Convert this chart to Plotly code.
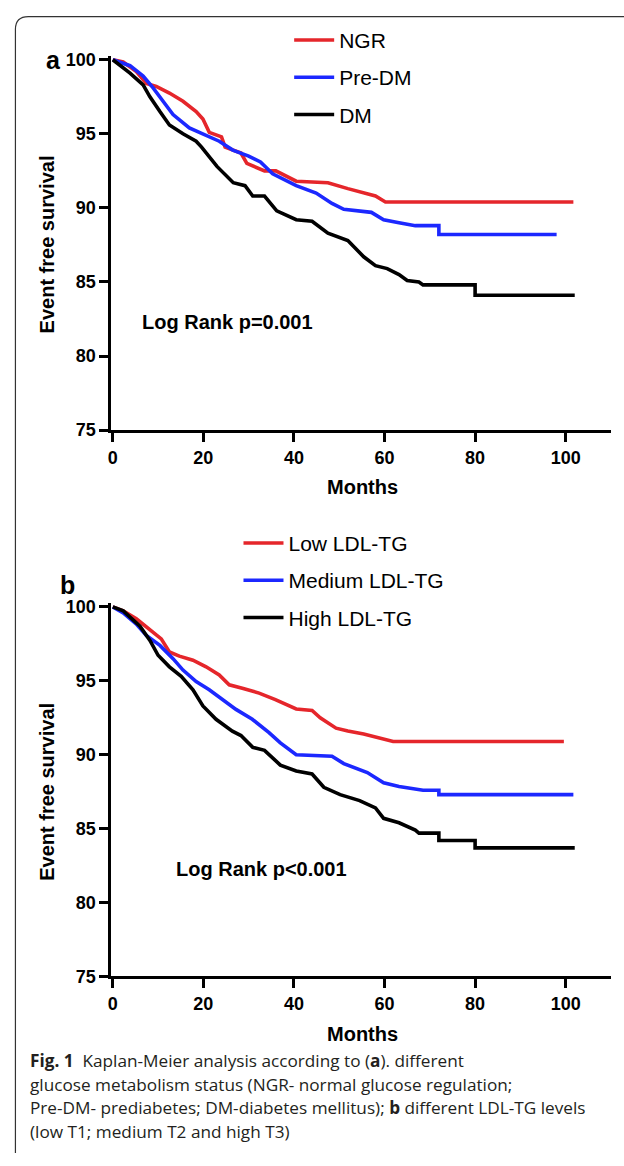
import plotly.graph_objects as go

# ---------------- data ----------------
# Panel a: glucose metabolism status
ngr_t = [0, 2.3, 5.2, 7.4, 9.6, 12.5, 15.5, 18.4, 19.9, 21.3, 24, 24.8, 28.3, 29.6, 33.5, 36, 40.5, 47.5, 51.9, 55.4, 58, 60.2, 101.7]
ngr_s = [100, 99.85, 99.2, 98.4, 98.2, 97.75, 97.2, 96.5, 96.0, 95.1, 94.8, 94.1, 93.7, 93.0, 92.5, 92.5, 91.8, 91.7, 91.3, 91.0, 90.8, 90.4, 90.4]

predm_t = [0, 3.8, 6.7, 8.9, 11.1, 13.3, 16.9, 19.9, 23.5, 26.5, 30, 32.6, 35.3, 40.5, 44.9, 48.4, 51, 57.1, 59.8, 63.2, 66.8, 72, 72, 98]
predm_s = [100, 99.6, 98.9, 98.1, 97.2, 96.3, 95.4, 95.0, 94.5, 93.9, 93.5, 93.1, 92.3, 91.5, 91.0, 90.3, 89.9, 89.7, 89.2, 89.0, 88.8, 88.8, 88.2, 88.2]

dm_t = [0, 3.8, 6.7, 8.2, 10.4, 12.5, 15.5, 18.4, 19.6, 23, 26.6, 29.2, 30.9, 33.5, 36.2, 40.5, 44, 47.5, 51.9, 52.8, 55.4, 58, 60.6, 63.2, 65, 67.6, 68.5, 80, 80, 102]
dm_s = [100, 99.1, 98.3, 97.5, 96.5, 95.6, 95.0, 94.5, 94.1, 92.8, 91.7, 91.5, 90.8, 90.8, 89.8, 89.2, 89.1, 88.3, 87.8, 87.5, 86.7, 86.1, 85.9, 85.5, 85.1, 85.0, 84.8, 84.8, 84.1, 84.1]

# Panel b: LDL-TG levels
low_t = [0, 2.3, 5.2, 8.2, 10.7, 12.5, 14.7, 17.7, 20.6, 23.5, 25.7, 28.6, 32.3, 35.9, 40.5, 44, 45.8, 49.3, 51.9, 55.4, 59.8, 61.9, 99.6]
low_s = [100, 99.73, 99.2, 98.5, 97.84, 96.95, 96.67, 96.4, 95.95, 95.4, 94.73, 94.5, 94.17, 93.73, 93.1, 93.0, 92.5, 91.8, 91.6, 91.4, 91.1, 90.9, 90.9]

med_t = [0, 2.3, 5.2, 7.4, 10.4, 13.3, 15.5, 18.4, 21.3, 24.2, 27.2, 30.8, 34.5, 37, 40.5, 48.4, 51, 56.2, 59.8, 63.2, 68.5, 72, 72, 101.7]
med_s = [100, 99.6, 98.84, 98.07, 97.4, 96.5, 95.73, 94.95, 94.4, 93.73, 93.07, 92.4, 91.5, 90.8, 90.0, 89.9, 89.4, 88.8, 88.1, 87.85, 87.6, 87.6, 87.3, 87.3]

high_t = [0, 2.3, 6.0, 8.2, 10.0, 12.5, 15.1, 17.7, 19.9, 22.8, 26.4, 28.3, 30.9, 33.5, 37, 40.5, 44, 46.6, 50.2, 54.5, 58, 59.8, 63.2, 66.8, 67.6, 72, 72, 80, 80, 102]
high_s = [100, 99.73, 98.7, 97.73, 96.73, 95.95, 95.3, 94.4, 93.3, 92.4, 91.6, 91.3, 90.5, 90.3, 89.3, 88.9, 88.7, 87.8, 87.3, 86.9, 86.4, 85.7, 85.4, 84.9, 84.7, 84.7, 84.2, 84.2, 83.7, 83.7]

series_a = ["NGR", "Pre-DM", "DM"]
series_b = ["Low LDL-TG", "Medium LDL-TG", "High LDL-TG"]
x_ticks = [0, 20, 40, 60, 80, 100]
y_ticks = [75, 80, 85, 90, 95, 100]
pvalue_a = "Log Rank p=0.001"
pvalue_b = "Log Rank p<0.001"
caption_lines = [
    "<b>Fig. 1</b>\u00a0\u00a0Kaplan-Meier analysis according to (<b>a</b>). different",
    "glucose metabolism status (NGR- normal glucose regulation;",
    "Pre-DM- prediabetes; DM-diabetes mellitus); <b>b</b> different LDL-TG levels",
    "(low T1; medium T2 and high T3)",
]

# ---------------- styling / layout helpers ----------------
W, H = 624, 1166
RED, BLUE, BLACK = "#E5262B", "#1C28FF", "#000000"
FONT = "Liberation Sans, Arial, Helvetica, sans-serif"
CAP_FONT = "Open Sans, Noto Sans, sans-serif"


def fx(p):
    return p / W


def fy(p):
    return 1 - p / H


kx = (565.3 - 109.5) / 100.0
x_dom = [fx(109.5 - 0.3 * kx), fx(109.5 + 110 * kx)]
ka = (430 - 54.5) / 25.0
ya_dom = [fy(430), fy(54.5 - 0.25 * ka)]
kb = (984 - 609.3) / 25.0
yb_dom = [fy(984), fy(609.3 - 0.25 * kb)]

fig = go.Figure()

for name, t, s, col in [(series_a[0], ngr_t, ngr_s, RED), (series_a[1], predm_t, predm_s, BLUE), (series_a[2], dm_t, dm_s, BLACK)]:
    fig.add_trace(go.Scatter(x=t, y=s, mode="lines", name=name, line=dict(color=col, width=3.6),
                             xaxis="x", yaxis="y", legend="legend", legendgroup=name))
for name, t, s, col in [(series_b[0], low_t, low_s, RED), (series_b[1], med_t, med_s, BLUE), (series_b[2], high_t, high_s, BLACK)]:
    fig.add_trace(go.Scatter(x=t, y=s, mode="lines", name=name, line=dict(color=col, width=3.6),
                             xaxis="x2", yaxis="y2", legend="legend2", legendgroup=name))

axis_common = dict(showline=True, linewidth=3, linecolor="black", ticks="outside", ticklen=9,
                   tickwidth=3, tickcolor="black", showgrid=False, zeroline=False,
                   tickfont=dict(family=FONT, size=18, color="black", weight="bold"))

legend_common = dict(xanchor="left", yanchor="top", tracegroupgap=7, itemwidth=40,
                     font=dict(family=FONT, size=21, color="black"), bgcolor="rgba(0,0,0,0)")

fig.update_layout(
    width=W, height=H, autosize=False,
    margin=dict(l=0, r=0, t=0, b=0),
    paper_bgcolor="white", plot_bgcolor="white",
    xaxis=dict(domain=x_dom, range=[-0.3, 110], tickvals=x_ticks, anchor="y", **axis_common),
    yaxis=dict(domain=ya_dom, range=[75, 100.25], tickvals=y_ticks, anchor="x", **axis_common),
    xaxis2=dict(domain=x_dom, range=[-0.3, 110], tickvals=x_ticks, anchor="y2", **axis_common),
    yaxis2=dict(domain=yb_dom, range=[75, 100.25], tickvals=y_ticks, anchor="x2", **axis_common),
    legend=dict(x=fx(287), y=fy(14), **legend_common),
    legend2=dict(x=fx(236), y=fy(524), **legend_common),
    showlegend=True,
)

ann = []
bold = dict(family=FONT, color="black", weight="bold")
ann.append(dict(text="a", x=fx(49.5), y=fy(55), font=dict(size=25, **bold)))
ann.append(dict(text="b", x=fx(64), y=fy(587), font=dict(size=25, **bold)))
ann.append(dict(text="Event free survival", x=fx(43), y=fy(242), textangle=-90, font=dict(size=20, **bold)))
ann.append(dict(text="Event free survival", x=fx(43), y=fy(797), textangle=-90, font=dict(size=20, **bold)))
ann.append(dict(text="Months", x=fx(361), y=fy(488), font=dict(size=20, **bold)))
ann.append(dict(text="Months", x=fx(361), y=fy(1042), font=dict(size=20, **bold)))
ann.append(dict(text=pvalue_a, x=fx(137), y=fy(320), xanchor="left", font=dict(size=20, **bold)))
ann.append(dict(text=pvalue_b, x=fx(171), y=fy(875), xanchor="left", font=dict(size=20, **bold)))
for i, line in enumerate(caption_lines):
    ann.append(dict(text=line, x=fx(24), y=fy(1069 + 24 * i), xanchor="left",
                    font=dict(family=CAP_FONT, size=17.2, color="#231F20")))
for a in ann:
    a.setdefault("xanchor", "center")
    a.update(xref="paper", yref="paper", yanchor="middle", showarrow=False)
fig.update_layout(annotations=ann)

# figure frame (rounded corner at top-left)
L, T, R, B, rad = 11.5, 10.7, 640, 1163, 13
path = (f"M {fx(L)},{fy(B)} L {fx(L)},{fy(T + rad)} Q {fx(L)},{fy(T)} {fx(L + rad)},{fy(T)} "
        f"L {fx(R)},{fy(T)}")
fig.add_shape(type="path", path=path, xref="paper", yref="paper", line=dict(color="#333333", width=1.2))

fig.write_html("out.html")
